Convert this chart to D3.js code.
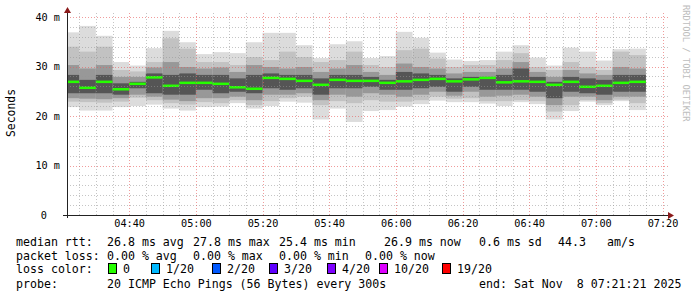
<!DOCTYPE html>
<html lang="en">
<head>
  <meta charset="UTF-8">
  <title>SmokePing median rtt</title>
  <style>
    body {
      margin: 0;
      background-color: #ffffff;
    }
    svg {
      display: block;
      font-family: "DejaVu Sans Mono", monospace;
    }
    .legend text {
      font-size: 11.6px;
      fill: #000;
    }
    .axis-label {
      font-size: 10.2px;
      fill: #000;
    }
  </style>
  <script src="https://d3js.org/d3.v7.min.js"></script>
</head>
<body>
  <div id="chart"></div>

  <script>
    // 5 minute slots (start time of each smoke bar)
    const slots = [
      '04:20', '04:25', '04:30', '04:35', '04:40', '04:45', '04:50', '04:55',
      '05:00', '05:05', '05:10', '05:15', '05:20', '05:25', '05:30', '05:35',
      '05:40', '05:45', '05:50', '05:55', '06:00', '06:05', '06:10', '06:15',
      '06:20', '06:25', '06:30', '06:35', '06:40', '06:45', '06:50', '06:55',
      '07:00', '07:05', '07:10'
    ];

    // median rtt per slot (ms)
    const medianMs = [
      26.9, 25.7, 26.9, 25.4, 26.5, 27.8, 26.1, 26.7, 26.7, 26.5, 25.8, 25.5,
      27.7, 27.5, 27.1, 26.3, 27.3, 27.1, 27.1, 26.7, 27.0, 27.3, 27.5, 27.0,
      27.4, 27.7, 26.8, 27.0, 26.9, 26.3, 26.9, 25.9, 26.1, 26.7, 26.9
    ];

    // smoke band edges (ms), outermost to innermost
    const maxMs = [
      36.9, 38.2, 36.2, 30.9, 30.2, 33.7, 37.2, 34.9, 32.5, 32.9, 32.7, 34.9,
      36.8, 36.8, 34.3, 31.7, 34.5, 35.1, 31.7, 32.1, 37.0, 35.8, 32.8, 31.4,
      31.1, 31.3, 33.0, 34.3, 31.8, 30.2, 33.8, 33.0, 31.2, 33.5, 33.6
    ];
    const up1Ms = [
      34.0, 33.0, 34.0, 29.3, 29.0, 30.9, 35.7, 33.6, 30.9, 30.9, 30.3, 31.9,
      31.3, 33.0, 31.9, 30.9, 31.3, 33.0, 30.3, 29.9, 33.3, 33.6, 31.6, 29.9,
      30.3, 30.3, 31.3, 32.7, 29.9, 29.3, 30.9, 29.9, 29.3, 33.0, 32.3
    ];
    const up2Ms = [
      30.3, 29.6, 30.3, 27.9, 27.9, 29.8, 30.9, 29.9, 29.6, 29.8, 28.9, 30.3,
      29.9, 29.6, 29.9, 28.9, 29.6, 30.3, 28.9, 28.3, 30.6, 29.9, 29.6, 28.6,
      28.9, 28.9, 29.6, 30.9, 28.9, 27.9, 29.3, 28.6, 28.3, 29.9, 29.6
    ];
    const up3Ms = [
      28.3, 27.3, 28.3, 26.6, 26.9, 28.6, 28.3, 28.6, 28.3, 28.3, 27.6, 28.3,
      28.6, 28.3, 28.3, 27.6, 28.3, 28.3, 27.9, 27.3, 28.9, 28.6, 28.3, 27.6,
      27.9, 27.9, 28.3, 29.6, 27.9, 26.9, 27.9, 27.6, 27.3, 28.3, 28.3
    ];
    const lo3Ms = [
      24.6, 24.6, 24.6, 24.3, 25.6, 24.6, 24.3, 24.3, 25.3, 24.6, 24.9, 24.6,
      25.6, 25.3, 25.6, 24.3, 25.6, 25.6, 25.9, 25.3, 25.3, 25.6, 25.9, 24.9,
      25.9, 25.3, 25.3, 25.3, 24.9, 23.6, 24.9, 24.6, 24.3, 24.9, 24.9
    ];
    const lo2Ms = [
      23.6, 23.5, 23.4, 23.6, 24.3, 23.9, 23.3, 23.0, 23.6, 23.6, 23.9, 23.2,
      24.3, 24.3, 24.6, 23.2, 24.3, 23.9, 24.6, 24.3, 23.9, 24.3, 24.9, 24.1,
      24.9, 23.9, 24.1, 24.3, 23.9, 22.2, 23.9, 23.9, 23.2, 23.9, 23.9
    ];
    const lo1Ms = [
      22.9, 22.8, 22.7, 22.9, 23.7, 23.2, 22.6, 22.3, 22.8, 22.6, 23.2, 22.2,
      23.0, 23.6, 23.9, 22.2, 23.0, 22.6, 23.2, 22.9, 22.9, 23.2, 23.9, 23.5,
      23.6, 23.0, 23.0, 23.2, 23.0, 20.9, 22.2, 23.2, 22.6, 23.3, 22.6
    ];
    const minMs = [
      21.8, 21.1, 21.1, 21.8, 22.0, 22.3, 21.5, 21.1, 21.8, 21.9, 22.6, 21.5,
      22.0, 22.9, 22.7, 19.3, 21.5, 18.8, 21.0, 21.2, 21.9, 22.4, 23.1, 22.8,
      22.8, 22.5, 22.0, 22.8, 22.4, 19.3, 21.0, 22.9, 22.2, 23.0, 21.2
    ];

    // y axis ticks
    const yTicks = [0, 10, 20, 30, 40];

    // legend
    const statsRtt = ['26.8 ms avg', '27.8 ms max', '25.4 ms min', '26.9 ms now', '0.6 ms sd', '44.3', 'am/s'];
    const statsLoss = ['0.00 % avg', '0.00 % max', '0.00 % min', '0.00 % now'];
    const lossLabels = ['0', '1/20', '2/20', '3/20', '4/20', '10/20', '19/20'];
    const lossColors = ['#26ff00', '#00b8ff', '#0059ff', '#5e00ff', '#7e00ff', '#dd00ff', '#ff0000'];
    const probeText = '20 ICMP Echo Pings (56 Bytes) every 300s';
    const endText = 'end: Sat Nov  8 07:21:21 2025';

    const width = 697;
    const height = 297;
    const plot = { left: 67, right: 667, top: 17, bottom: 215 };

    const svg = d3.select('#chart')
      .append('svg')
      .attr('width', width)
      .attr('height', height);

    const day = (hm) => {
      const [h, m] = hm.split(':').map(Number);
      return new Date(Date.UTC(2025, 10, 8, h, m, 0));
    };
    const tStart = new Date(Date.UTC(2025, 10, 8, 4, 21, 21));
    const tEnd = new Date(Date.UTC(2025, 10, 8, 7, 21, 21));

    const x = d3.scaleUtc()
      .domain([tStart, tEnd])
      .range([plot.left, plot.right]);

    const y = d3.scaleLinear()
      .domain([0, 40])
      .range([plot.bottom, plot.top]);

    // smoke
    const layers = [
      { lo: minMs, hi: maxMs, fill: '#dcdcdc' },
      { lo: lo1Ms, hi: up1Ms, fill: '#c2c2c2' },
      { lo: lo2Ms, hi: up2Ms, fill: '#989898' },
      { lo: lo3Ms, hi: up3Ms, fill: '#555555' }
    ];

    const barX = i => Math.max(plot.left, x(day(slots[i])));
    const barW = i => x(d3.utcMinute.offset(day(slots[i]), 5)) - barX(i);

    const smoke = svg.append('g');
    layers.forEach(layer => {
      smoke.append('g')
        .selectAll('rect')
        .data(slots)
        .enter()
        .append('rect')
        .attr('x', (d, i) => barX(i))
        .attr('width', (d, i) => barW(i))
        .attr('y', (d, i) => y(layer.hi[i]))
        .attr('height', (d, i) => y(layer.lo[i]) - y(layer.hi[i]))
        .attr('fill', layer.fill);
    });

    // median line
    svg.append('g')
      .selectAll('rect')
      .data(medianMs)
      .enter()
      .append('rect')
      .attr('x', (d, i) => barX(i))
      .attr('width', (d, i) => barW(i))
      .attr('y', d => y(d) - 1.25)
      .attr('height', 2.5)
      .attr('fill', '#26ff00');

    // grid (drawn over the smoke like rrdtool does)
    const grid = svg.append('g');
    const minorY = d3.range(2, 41, 2).filter(v => v % 10 !== 0);
    const majorY = yTicks.filter(v => v > 0);
    const vLines = d3.utcMinute.every(5).range(d3.utcMinute.offset(tStart, 1), d3.utcMinute.offset(tEnd, 0));

    grid.selectAll('.hminor')
      .data(minorY)
      .enter()
      .append('line')
      .attr('x1', plot.left).attr('x2', plot.right + 1)
      .attr('y1', d => Math.round(y(d)) + 0.5).attr('y2', d => Math.round(y(d)) + 0.5)
      .attr('stroke', 'rgba(150,150,150,0.55)')
      .attr('stroke-dasharray', '1,2');

    grid.selectAll('.vminor')
      .data(vLines.filter(t => t.getUTCMinutes() % 20 !== 0))
      .enter()
      .append('line')
      .attr('x1', d => Math.round(x(d)) + 0.5).attr('x2', d => Math.round(x(d)) + 0.5)
      .attr('y1', plot.bottom).attr('y2', plot.top - 4)
      .attr('stroke', 'rgba(150,150,150,0.55)')
      .attr('stroke-dasharray', '1,2');

    grid.selectAll('.hmajor')
      .data(majorY)
      .enter()
      .append('line')
      .attr('x1', plot.left).attr('x2', plot.right + 1)
      .attr('y1', d => Math.round(y(d)) + 0.5).attr('y2', d => Math.round(y(d)) + 0.5)
      .attr('stroke', 'rgba(230,90,90,0.6)')
      .attr('stroke-dasharray', '1,2');

    grid.selectAll('.vmajor')
      .data(vLines.filter(t => t.getUTCMinutes() % 20 === 0))
      .enter()
      .append('line')
      .attr('x1', d => Math.round(x(d)) + 0.5).attr('x2', d => Math.round(x(d)) + 0.5)
      .attr('y1', plot.bottom).attr('y2', plot.top - 4)
      .attr('stroke', 'rgba(230,90,90,0.6)')
      .attr('stroke-dasharray', '1,2');

    // axes
    const axisColor = '#222';
    const arrowColor = '#8b1a1a';
    svg.append('line')
      .attr('x1', plot.left + 0.5).attr('x2', plot.left + 0.5)
      .attr('y1', plot.bottom + 3).attr('y2', 12)
      .attr('stroke', axisColor);
    svg.append('line')
      .attr('x1', plot.left - 4).attr('x2', plot.right + 2)
      .attr('y1', plot.bottom + 0.5).attr('y2', plot.bottom + 0.5)
      .attr('stroke', axisColor);
    svg.append('path')
      .attr('d', `M${plot.left - 3},13 L${plot.left + 4},13 L${plot.left + 0.5},7 Z`)
      .attr('fill', arrowColor);
    svg.append('path')
      .attr('d', `M${plot.right + 1},${plot.bottom - 3} L${plot.right + 1},${plot.bottom + 4} L${plot.right + 7},${plot.bottom + 0.5} Z`)
      .attr('fill', arrowColor);

    // y labels
    const yAxis = d3.axisLeft(y)
      .tickValues(yTicks)
      .tickSize(0)
      .tickPadding(7)
      .tickFormat(d => d === 0 ? '0' : d + ' m');
    const yG = svg.append('g')
      .attr('transform', `translate(${plot.left},0)`)
      .call(yAxis);
    yG.select('.domain').remove();
    yG.selectAll('text')
      .attr('class', 'axis-label')
      .style('font-family', '"DejaVu Sans Mono", monospace')
      .attr('x', d => d === 0 ? -20 : -7);

    // x labels
    const xAxis = d3.axisBottom(x)
      .ticks(d3.utcMinute.every(20))
      .tickSize(0)
      .tickPadding(5)
      .tickFormat(d3.utcFormat('%H:%M'));
    const xG = svg.append('g')
      .attr('transform', `translate(0,${plot.bottom})`)
      .call(xAxis);
    xG.select('.domain').remove();
    xG.selectAll('text')
      .attr('class', 'axis-label')
      .style('font-family', '"DejaVu Sans Mono", monospace');

    // y title
    svg.append('text')
      .attr('transform', 'translate(15,113) rotate(-90)')
      .attr('text-anchor', 'middle')
      .style('font-size', '11.4px')
      .text('Seconds');

    // watermark
    svg.append('text')
      .attr('transform', 'translate(683,5) rotate(90)')
      .style('font-size', '8.8px')
      .attr('fill', '#bdbdbd')
      .text('RRDTOOL / TOBI OETIKER');

    // legend
    const legend = svg.append('g').attr('class', 'legend');
    const rows = [245.5, 259.5, 273, 287.5];

    legend.append('text').attr('x', 16).attr('y', rows[0]).text('median rtt:');
    const rttX = [107, 193, 279, 384, 479, 558, 607];
    statsRtt.forEach((s, i) => {
      legend.append('text').attr('x', rttX[i]).attr('y', rows[0]).text(s);
    });

    legend.append('text').attr('x', 16).attr('y', rows[1]).text('packet loss:');
    const lossX = [107, 193, 279, 365];
    statsLoss.forEach((s, i) => {
      legend.append('text').attr('x', lossX[i]).attr('y', rows[1]).text(s);
    });

    legend.append('text').attr('x', 16).attr('y', rows[2]).text('loss color:');
    const boxX = [108, 151, 212, 269, 327, 379, 442];
    lossLabels.forEach((s, i) => {
      legend.append('rect')
        .attr('x', boxX[i] + 0.5).attr('y', rows[2] - 9.5)
        .attr('width', 8).attr('height', 10)
        .attr('fill', lossColors[i])
        .attr('stroke', '#000');
      legend.append('text').attr('x', boxX[i] + 15).attr('y', rows[2]).text(s);
    });

    legend.append('text').attr('x', 16).attr('y', rows[3]).text('probe:');
    legend.append('text').attr('x', 107).attr('y', rows[3]).text(probeText);
    legend.append('text').attr('x', 479).attr('y', rows[3])
      .style('white-space', 'pre')
      .text(endText);
  </script>
</body>
</html>
